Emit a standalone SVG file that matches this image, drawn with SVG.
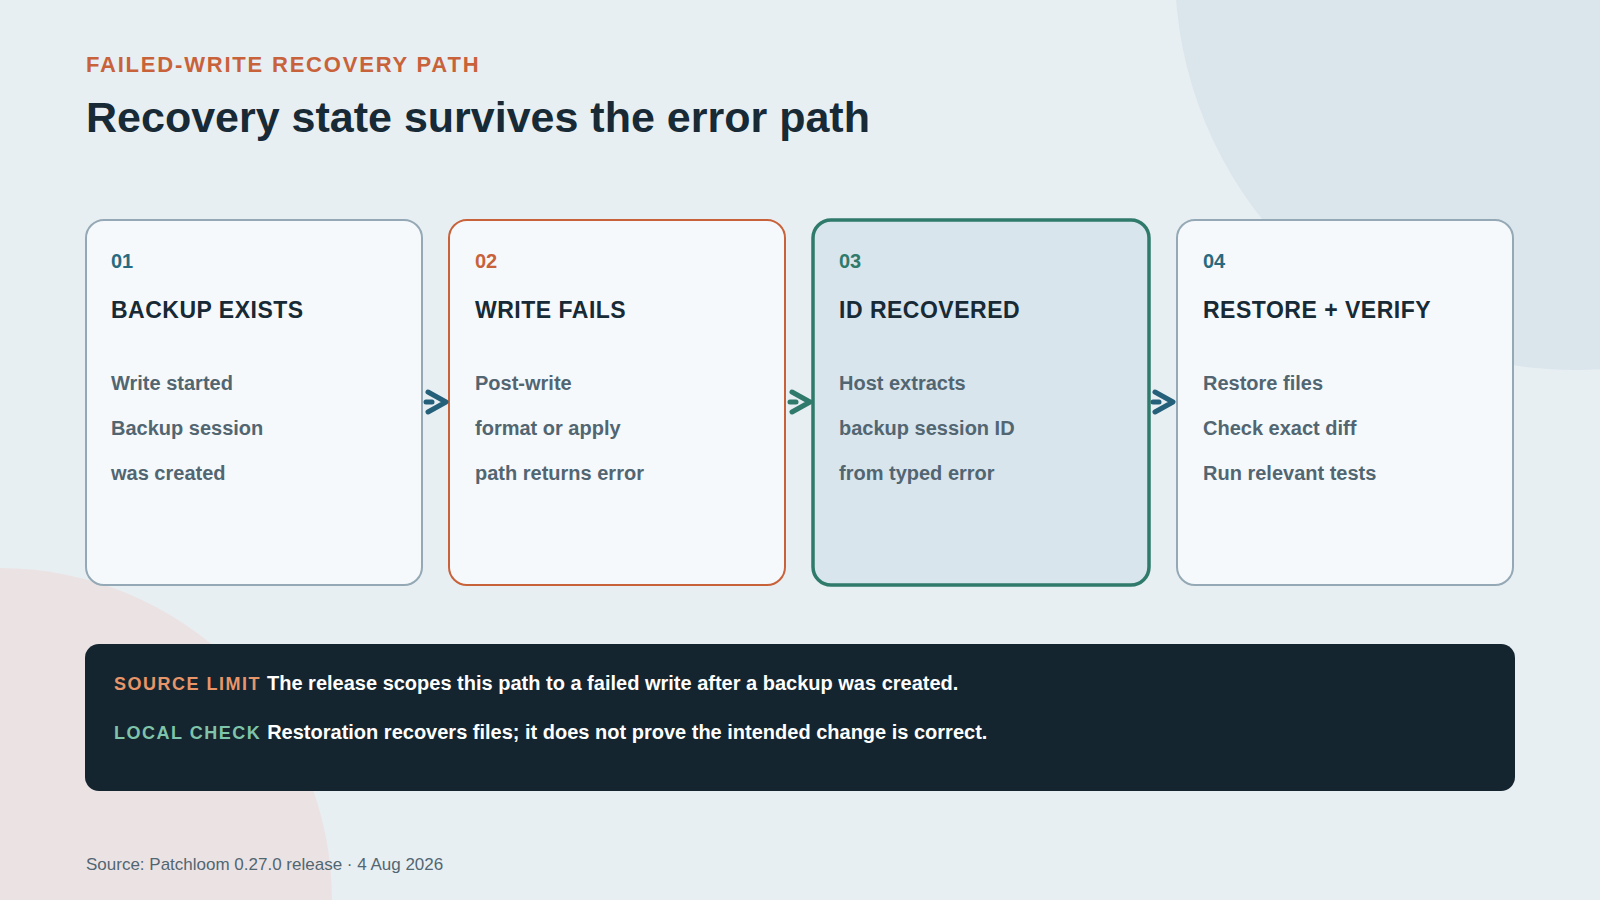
<svg xmlns="http://www.w3.org/2000/svg" width="1600" height="900" viewBox="0 0 1600 900">
<style>
text{font-family:"Liberation Sans",Arial,sans-serif}
.card{fill:#f6f9fb;stroke:#94a8b5;stroke-width:2}
.num{font-size:20px;font-weight:bold}
.ttl{font-size:23px;font-weight:bold;fill:#172a35;letter-spacing:0.5px}
.body{font-size:20px;font-weight:bold;fill:#526672}
.arr{fill:none;stroke-width:5;stroke-linecap:round;stroke-linejoin:round}
.note{font-size:20px;font-weight:bold;fill:#ffffff}
.lab{font-size:18px;font-weight:bold;letter-spacing:1.5px}
</style>
<rect width="1600" height="900" fill="#e8eff3"/>
<circle cx="1575" cy="-30" r="400" fill="#dae5ec"/>
<circle cx="0" cy="900" r="332" fill="#ebe3e3"/>
<text x="86" y="72" font-size="22" font-weight="bold" fill="#c8623a" letter-spacing="1.8">FAILED-WRITE RECOVERY PATH</text>
<text x="86" y="132" font-size="43" font-weight="bold" fill="#172a35">Recovery state survives the error path</text>
<g id="node1"><rect class="card" x="86" y="220" width="336" height="365" rx="18"/>
<text class="num" x="111" y="268" fill="#2a6a80">01</text><text class="ttl" x="111" y="318">BACKUP EXISTS</text>
<text class="body" x="111" y="390">Write started</text><text class="body" x="111" y="435">Backup session</text><text class="body" x="111" y="480">was created</text></g>
<g id="node2"><rect class="card" x="449" y="220" width="336" height="365" rx="18" style="stroke:#c8623a"/>
<text class="num" x="475" y="268" fill="#c8623a">02</text><text class="ttl" x="475" y="318">WRITE FAILS</text>
<text class="body" x="475" y="390">Post-write</text><text class="body" x="475" y="435">format or apply</text><text class="body" x="475" y="480">path returns error</text></g>
<g id="node3"><rect class="card" x="813" y="220" width="336" height="365" rx="18" style="fill:#d9e5ec;stroke:#2f7a6b;stroke-width:3.5"/>
<text class="num" x="839" y="268" fill="#2f7a6b">03</text><text class="ttl" x="839" y="318">ID RECOVERED</text>
<text class="body" x="839" y="390">Host extracts</text><text class="body" x="839" y="435">backup session ID</text><text class="body" x="839" y="480">from typed error</text></g>
<g id="node4"><rect class="card" x="1177" y="220" width="336" height="365" rx="18"/>
<text class="num" x="1203" y="268" fill="#2a6a80">04</text><text class="ttl" x="1203" y="318">RESTORE + VERIFY</text>
<text class="body" x="1203" y="390">Restore files</text><text class="body" x="1203" y="435">Check exact diff</text><text class="body" x="1203" y="480">Run relevant tests</text></g>
<g id="connectors">
<g class="arr" stroke="#24607a"><path d="M428 392 L446 402 L428 412"/><path d="M426 402 L432 402"/></g>
<g class="arr" stroke="#2f7a6b"><path d="M792 392 L810 402 L792 412"/><path d="M790 402 L796 402"/></g>
<g class="arr" stroke="#24607a"><path d="M1155 392 L1173 402 L1155 412"/><path d="M1153 402 L1159 402"/></g>
</g>
<g id="notes"><rect x="85" y="644" width="1430" height="147" rx="14" fill="#14252f"/>
<text x="114" y="690"><tspan class="lab" fill="#e8956a">SOURCE LIMIT</tspan><tspan class="note" dx="6">The release scopes this path to a failed write after a backup was created.</tspan></text>
<text x="114" y="739"><tspan class="lab" fill="#7fc4aa">LOCAL CHECK</tspan><tspan class="note" dx="6">Restoration recovers files; it does not prove the intended change is correct.</tspan></text></g>
<text x="86" y="870" font-size="17" fill="#526672">Source: Patchloom 0.27.0 release · 4 Aug 2026</text>
</svg>
